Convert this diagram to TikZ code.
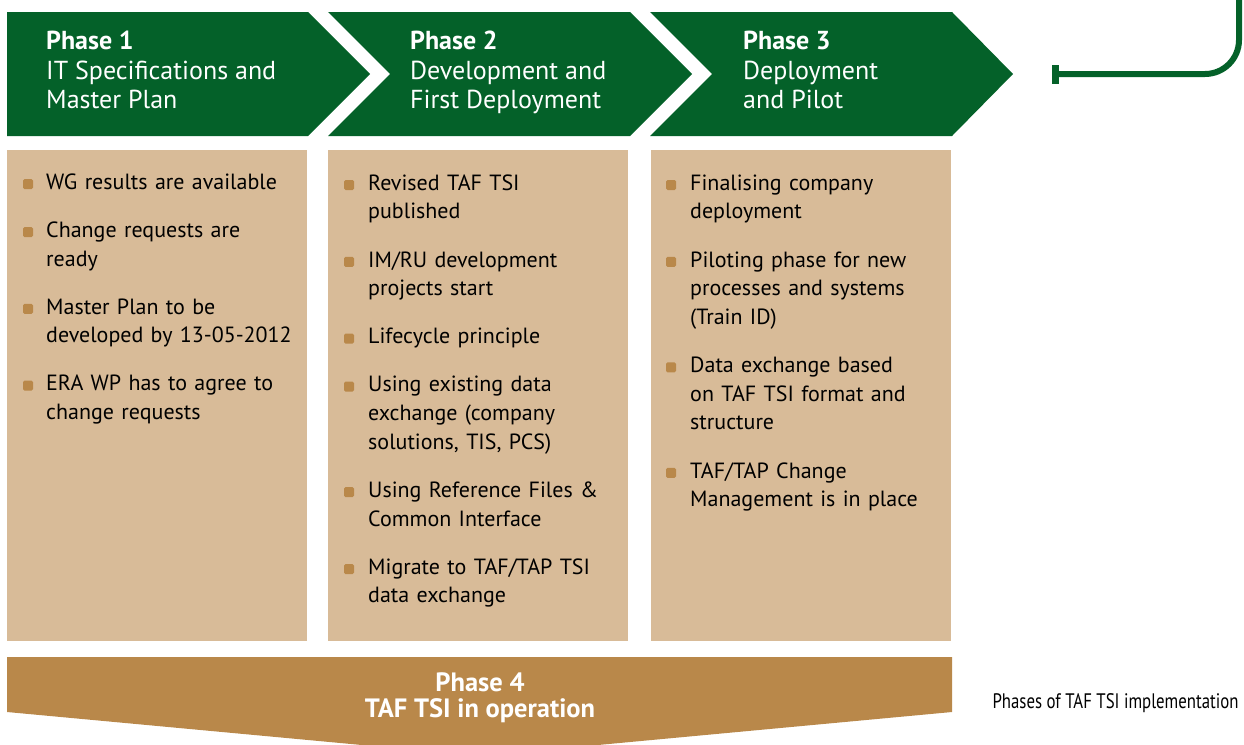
\documentclass[tikz,border=0pt]{standalone}
\usepackage{fontspec}
\setmainfont{PT Sans}
\newfontfamily\capfont[FakeStretch=0.8]{PT Sans}
\usetikzlibrary{positioning,arrows.meta}
\definecolor{tafgreen}{RGB}{4,97,41}
\definecolor{taftan}{RGB}{216,187,152}
\definecolor{tafbrown}{RGB}{185,136,74}

\begin{document}
\begin{tikzpicture}[x=1pt, y=-1pt, node distance=19pt,
  every node/.style={font=\fontsize{22}{28.7}\selectfont},
  head/.style={text=white, inner sep=0pt, anchor=north west, align=left, font=\fontsize{26}{29.5}\selectfont},
  item/.style={inner sep=0pt, text width=255pt, align=left, text=black},
  bul/.style={fill=tafbrown, rounded corners=1.5pt, minimum size=10pt, inner sep=0pt}]
  \useasboundingbox (0,0) rectangle (1244,744);
  \fill[tafgreen] (7,12) -- (308,12) -- (370,74) -- (308,136) -- (7,136) -- cycle;
  \fill[tafgreen] (328,12) -- (630,12) -- (692,74) -- (630,136) -- (328,136) -- (390,74) -- cycle;
  \fill[tafgreen] (650,12) -- (952,12) -- (1013,74) -- (952,136) -- (650,136) -- (712,74) -- cycle;
  \fill[taftan] (7,150) rectangle (307,641);
  \fill[taftan] (328,150) rectangle (628,641);
  \fill[taftan] (651,150) rectangle (951,641);
  \fill[tafbrown] (7,657) -- (952,657) -- (952,712) -- (480,756) -- (7,712) -- cycle;

  \node[head] (h1) at (46,29) {\strut\textbf{Phase 1}\\IT Specifications and\\Master Plan};
  \node[head] (h2) at (410,29) {\strut\textbf{Phase 2}\\Development and\\First Deployment};
  \node[head] (h3) at (743,29) {\strut\textbf{Phase 3}\\Deployment\\and Pilot};

  \node[item, anchor=north west] (a1) at (46,169) {\strut WG results are available\strut};
  \node[item, below=of a1] (a2) {\strut Change requests are\\ready\strut};
  \node[item, below=of a2] (a3) {\strut Master Plan to be\\developed by 13-05-2012\strut};
  \node[item, below=of a3] (a4) {\strut ERA WP has to agree to\\change requests\strut};

  \node[item, anchor=north west] (b1) at (368,170) {\strut Revised TAF TSI\\published\strut};
  \node[item, below=of b1] (b2) {\strut IM/RU development\\projects start\strut};
  \node[item, below=of b2] (b3) {\strut Lifecycle principle\strut};
  \node[item, below=of b3] (b4) {\strut Using existing data\\exchange (company\\solutions, TIS, PCS)\strut};
  \node[item, below=of b4] (b5) {\strut Using Reference Files \&\\Common Interface\strut};
  \node[item, below=of b5] (b6) {\strut Migrate to TAF/TAP TSI\\data exchange\strut};

  \node[item, anchor=north west] (c1) at (690,170) {\strut Finalising company\\deployment\strut};
  \node[item, below=of c1] (c2) {\strut Piloting phase for new\\processes and systems\\(Train ID)\strut};
  \node[item, below=of c2] (c3) {\strut Data exchange based\\on TAF TSI format and\\structure\strut};
  \node[item, below=of c3] (c4) {\strut TAF/TAP Change\\Management is in place\strut};

  \node[bul] (a1b) at ([xshift=-18pt,yshift=-15pt]a1.north west) {};
  \node[bul] (a2b) at ([xshift=-18pt,yshift=-15pt]a2.north west) {};
  \node[bul] (a3b) at ([xshift=-18pt,yshift=-15pt]a3.north west) {};
  \node[bul] (a4b) at ([xshift=-18pt,yshift=-15pt]a4.north west) {};
  \node[bul] (b1b) at ([xshift=-19pt,yshift=-15pt]b1.north west) {};
  \node[bul] (b2b) at ([xshift=-19pt,yshift=-15pt]b2.north west) {};
  \node[bul] (b3b) at ([xshift=-19pt,yshift=-15pt]b3.north west) {};
  \node[bul] (b4b) at ([xshift=-19pt,yshift=-15pt]b4.north west) {};
  \node[bul] (b5b) at ([xshift=-19pt,yshift=-15pt]b5.north west) {};
  \node[bul] (b6b) at ([xshift=-19pt,yshift=-15pt]b6.north west) {};
  \node[bul] (c1b) at ([xshift=-19pt,yshift=-15pt]c1.north west) {};
  \node[bul] (c2b) at ([xshift=-19pt,yshift=-15pt]c2.north west) {};
  \node[bul] (c3b) at ([xshift=-19pt,yshift=-15pt]c3.north west) {};
  \node[bul] (c4b) at ([xshift=-19pt,yshift=-15pt]c4.north west) {};

  \node[text=white, align=center, font=\bfseries\fontsize{26.5}{26}\selectfont] (p4) at (480,698) {Phase 4\\TAF TSI in operation};
  \node[anchor=west, font=\capfont\fontsize{21}{24}\selectfont] (cap) at (989,703) {Phases of TAF TSI implementation};

  \coordinate (loopin) at (1239,-4);
  \coordinate (loopend) at (1052,74);
  \draw[tafgreen, line width=6pt, rounded corners=34pt, -{Rectangle[length=7pt,width=19pt]}] (loopin) |- (loopend);
\end{tikzpicture}
\end{document}
